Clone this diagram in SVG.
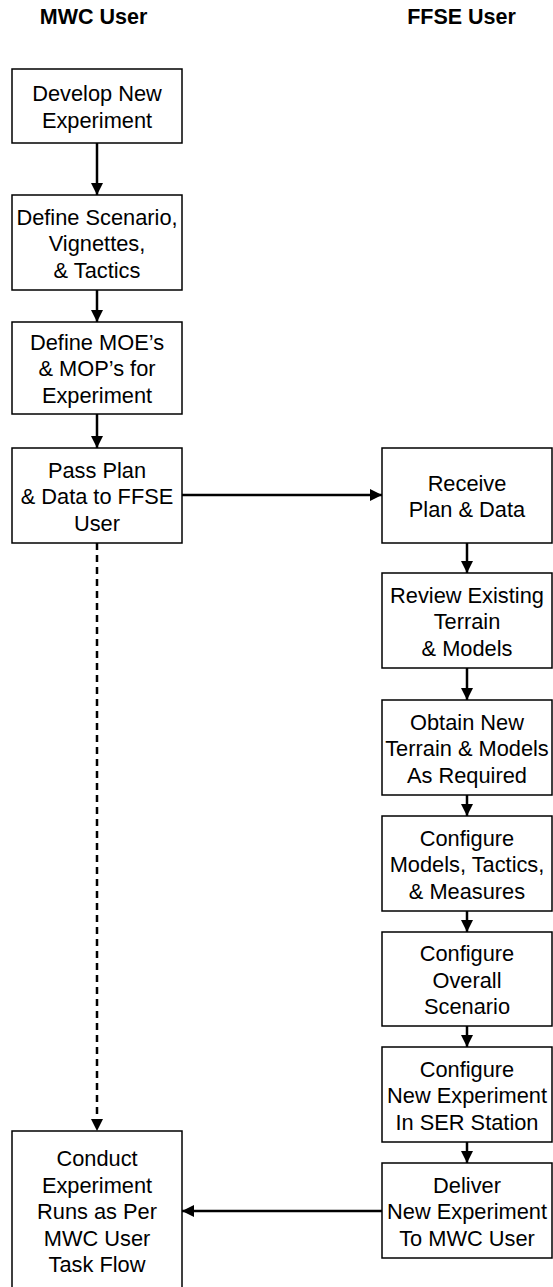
<svg xmlns="http://www.w3.org/2000/svg" width="553" height="1287" viewBox="0 0 553 1287">
  <style>
    .box { fill: #ffffff; stroke: #000000; stroke-width: 1.5; }
    .lbl { font-family: "Liberation Sans", Arial, sans-serif; font-size: 21.8px; fill: #000000; text-anchor: middle; }
    .hdr { font-family: "Liberation Sans", Arial, sans-serif; font-size: 21.5px; font-weight: bold; fill: #000000; text-anchor: middle; }
    .flow { fill: none; stroke: #000000; stroke-width: 2.5; marker-end: url(#head); }
    .dash { stroke-dasharray: 7 5; }
  </style>
  <defs>
    <marker id="head" viewBox="0 0 12 12" refX="12" refY="6" markerWidth="12" markerHeight="12" markerUnits="userSpaceOnUse" orient="auto">
      <path d="M0,0 L12,6 L0,12 z" fill="#000000"/>
    </marker>
  </defs>
  <rect width="553" height="1287" fill="#ffffff"/>

  <!-- lane headers -->
  <text class="hdr" x="93.5" y="24">MWC User</text>
  <text class="hdr" x="461.5" y="24">FFSE User</text>

  <!-- connectors -->
  <g id="connectors">
    <path class="flow" d="M97,143 L97,195"/>
    <path class="flow" d="M97,290 L97,322"/>
    <path class="flow" d="M97,414 L97,448"/>
    <path class="flow dash" d="M97,543 L97,1131"/>
    <path class="flow" d="M182,495 L382,495"/>
    <path class="flow" d="M467,543 L467,573"/>
    <path class="flow" d="M467,668 L467,700"/>
    <path class="flow" d="M467,795 L467,816"/>
    <path class="flow" d="M467,911 L467,932"/>
    <path class="flow" d="M467,1026 L467,1047"/>
    <path class="flow" d="M467,1142 L467,1163"/>
    <path class="flow" d="M382,1211 L182,1211"/>
  </g>

  <!-- MWC User lane -->
  <g id="develop">
    <rect class="box" x="12" y="69" width="170" height="74"/>
    <text class="lbl"><tspan x="97" y="101">Develop New</tspan><tspan x="97" y="127.5">Experiment</tspan></text>
  </g>
  <g id="define-scenario">
    <rect class="box" x="12" y="195" width="170" height="95"/>
    <text class="lbl"><tspan x="97" y="224.5">Define Scenario,</tspan><tspan x="97" y="251">Vignettes,</tspan><tspan x="97" y="277.5">&amp; Tactics</tspan></text>
  </g>
  <g id="define-moe">
    <rect class="box" x="12" y="322" width="170" height="92"/>
    <text class="lbl"><tspan x="97" y="349.5">Define MOE’s</tspan><tspan x="97" y="376">&amp; MOP’s for</tspan><tspan x="97" y="402.5">Experiment</tspan></text>
  </g>
  <g id="pass-plan">
    <rect class="box" x="12" y="448" width="170" height="95"/>
    <text class="lbl"><tspan x="97" y="477.5">Pass Plan</tspan><tspan x="97" y="504">&amp; Data to FFSE</tspan><tspan x="97" y="530.5">User</tspan></text>
  </g>
  <g id="conduct">
    <rect class="box" x="12" y="1131" width="170" height="170"/>
    <text class="lbl"><tspan x="97" y="1166">Conduct</tspan><tspan x="97" y="1192.5">Experiment</tspan><tspan x="97" y="1219">Runs as Per</tspan><tspan x="97" y="1245.5">MWC User</tspan><tspan x="97" y="1272">Task Flow</tspan></text>
  </g>

  <!-- FFSE User lane -->
  <g id="receive">
    <rect class="box" x="382" y="448" width="170" height="95"/>
    <text class="lbl"><tspan x="467" y="490.75">Receive</tspan><tspan x="467" y="517.25">Plan &amp; Data</tspan></text>
  </g>
  <g id="review">
    <rect class="box" x="382" y="573" width="170" height="95"/>
    <text class="lbl"><tspan x="467" y="602.5">Review Existing</tspan><tspan x="467" y="629">Terrain</tspan><tspan x="467" y="655.5">&amp; Models</tspan></text>
  </g>
  <g id="obtain">
    <rect class="box" x="382" y="700" width="170" height="95"/>
    <text class="lbl"><tspan x="467" y="729.5">Obtain New</tspan><tspan x="467" y="756">Terrain &amp; Models</tspan><tspan x="467" y="782.5">As Required</tspan></text>
  </g>
  <g id="configure-models">
    <rect class="box" x="382" y="816" width="170" height="95"/>
    <text class="lbl"><tspan x="467" y="845.5">Configure</tspan><tspan x="467" y="872">Models, Tactics,</tspan><tspan x="467" y="898.5">&amp; Measures</tspan></text>
  </g>
  <g id="configure-scenario">
    <rect class="box" x="382" y="932" width="170" height="94"/>
    <text class="lbl"><tspan x="467" y="961">Configure</tspan><tspan x="467" y="987.5">Overall</tspan><tspan x="467" y="1014">Scenario</tspan></text>
  </g>
  <g id="configure-experiment">
    <rect class="box" x="382" y="1047" width="170" height="95"/>
    <text class="lbl"><tspan x="467" y="1076.5">Configure</tspan><tspan x="467" y="1103">New Experiment</tspan><tspan x="467" y="1129.5">In SER Station</tspan></text>
  </g>
  <g id="deliver">
    <rect class="box" x="382" y="1163" width="170" height="95"/>
    <text class="lbl"><tspan x="467" y="1192.5">Deliver</tspan><tspan x="467" y="1219">New Experiment</tspan><tspan x="467" y="1245.5">To MWC User</tspan></text>
  </g>
</svg>
